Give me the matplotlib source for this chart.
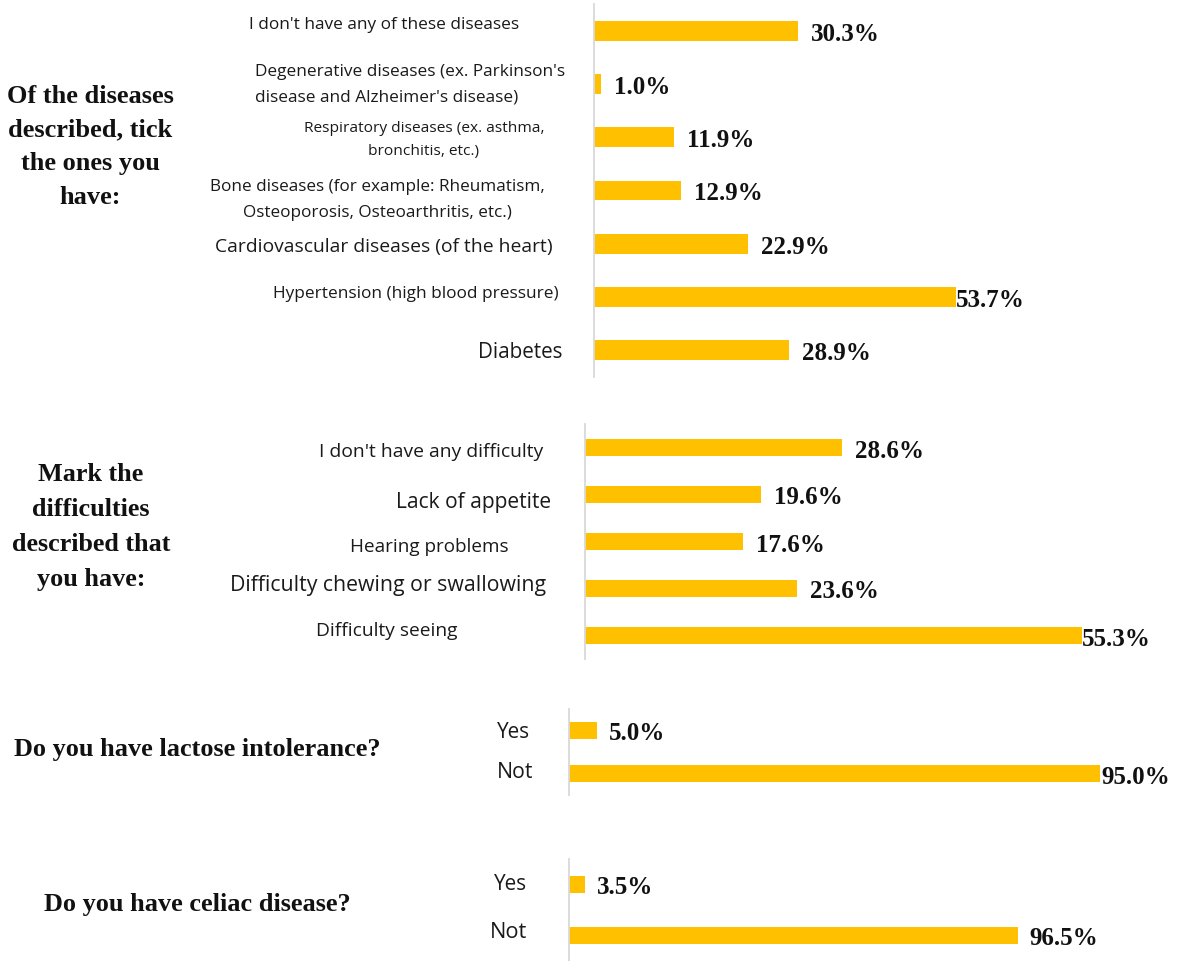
import matplotlib
matplotlib.use('Agg')
import matplotlib.pyplot as plt

W, H = 1183, 962
GOLD = '#FFC000'
SANS = ['Open Sans', 'DejaVu Sans']
SERIF = ['Liberation Serif', 'DejaVu Serif']

# survey answers, in percent
disease_labels = [
    "I don't have any of these diseases",
    "Degenerative diseases (ex. Parkinson's\ndisease and Alzheimer's disease)",
    "Respiratory diseases (ex. asthma,\nbronchitis, etc.)",
    "Bone diseases (for example: Rheumatism,\nOsteoporosis, Osteoarthritis, etc.)",
    "Cardiovascular diseases (of the heart)",
    "Hypertension (high blood pressure)",
    "Diabetes",
]
disease_values = [30.3, 1.0, 11.9, 12.9, 22.9, 53.7, 28.9]

difficulty_labels = [
    "I don't have any difficulty",
    "Lack of appetite",
    "Hearing problems",
    "Difficulty chewing or swallowing",
    "Difficulty seeing",
]
difficulty_values = [28.6, 19.6, 17.6, 23.6, 55.3]

lactose_labels = ['Yes', 'Not']
lactose_values = [5.0, 95.0]

celiac_labels = ['Yes', 'Not']
celiac_values = [3.5, 96.5]

questions = [
    "Of the diseases\ndescribed, tick\nthe ones you\nhave:",
    "Mark the\ndifficulties\ndescribed that\nyou have:",
    "Do you have lactose intolerance?",
    "Do you have celiac disease?",
]

# layout in pixels: axis line x, top, bottom, px per percent, bar height,
# gap before each value label, category text boxes (x, y, width, ha, gap),
# question box (x, y, width, line gap)
panels = [
    dict(labels=disease_labels, values=disease_values,
         axis_x=594, top=5, bottom=378, scale=6.74, bar_h=0.375,
         pads=[13, 13, 13, 13, 13, 0, 13],
         boxes=[(384, 25, 269, 'center', 0), (255, 85, 307, 'left', 26),
                (424, 140, 238, 'center', 24), (377, 200, 332, 'center', 26),
                (384, 247, 334, 'center', 0), (416, 294, 282, 'center', 0),
                (520, 352, 84, 'center', 0)],
         qbox=(90, 147, 166, 33.7)),
    dict(labels=difficulty_labels, values=difficulty_values,
         axis_x=585, top=425, bottom=660, scale=8.99, bar_h=0.38,
         pads=[13, 13, 13, 13, 0],
         boxes=[(431, 452, 223, 'center', 0), (474, 503, 155, 'center', 0),
                (429, 547, 157, 'center', 0), (388, 585, 314, 'center', 0),
                (387, 631, 141, 'center', 0)],
         qbox=(91, 527, 158, 35)),
    dict(labels=lactose_labels, values=lactose_values,
         axis_x=569, top=710, bottom=796, scale=5.59, bar_h=0.4,
         pads=[12, 1],
         boxes=[(513, 733, 33, 'center', 0), (515, 773, 36, 'center', 0)],
         qbox=(197, 750, 365, 0)),
    dict(labels=celiac_labels, values=celiac_values,
         axis_x=569, top=860, bottom=962, scale=4.65, bar_h=0.33,
         pads=[12, 12],
         boxes=[(510, 884, 33, 'center', 0), (509, 933, 37, 'center', 0)],
         qbox=(197, 905, 305, 0)),
]

fig = plt.figure(figsize=(W / 100, H / 100), dpi=100)
renderer = fig.canvas.get_renderer()


def put_lines(text, x, cy, width, ha, gap, **kw):
    lines = text.split('\n')
    n = len(lines)
    items = []
    for k, line in enumerate(lines):
        y = cy + (k - (n - 1) / 2) * gap
        items.append(fig.text(x / W, 1 - y / H, line, ha=ha, va='center',
                              fontsize=12, **kw))
    widest = max(t.get_window_extent(renderer).width for t in items)
    for t in items:
        t.set_fontsize(12 * width / widest)
    return items


for p, question in zip(panels, questions):
    n = len(p['values'])
    ax = fig.add_axes([p['axis_x'] / W, 1 - p['bottom'] / H,
                       (W - p['axis_x']) / W, (p['bottom'] - p['top']) / H])
    ax.barh(range(n), p['values'], height=p['bar_h'], color=GOLD)
    ax.set_xlim(0, (W - p['axis_x']) / p['scale'])
    ax.set_ylim(n - 0.5, -0.5)
    for side in ['top', 'right', 'bottom']:
        ax.spines[side].set_visible(False)
    ax.spines['left'].set_color('#d9d9d9')
    ax.spines['left'].set_linewidth(1.3)
    ax.set_xticks([])
    ax.set_yticks([])
    ax.patch.set_alpha(0)

    for i, (v, pad) in enumerate(zip(p['values'], p['pads'])):
        ax.annotate(f'{v:.1f}%', xy=(v, i), xytext=(pad * 0.72, 0),
                    textcoords='offset points', ha='left',
                    va='center_baseline', fontsize=18, fontweight='bold',
                    family=SERIF, color='#111111', annotation_clip=False)

    for label, (x, y, w, ha, gap) in zip(p['labels'], p['boxes']):
        put_lines(label, x, y, w, ha, gap, family=SANS, color='#1a1a1a')

    qx, qy, qw, qgap = p['qbox']
    put_lines(question, qx, qy, qw, 'center', qgap, family=SERIF,
              fontweight='bold', color='#111111')

fig.savefig('out.png', dpi=100)
